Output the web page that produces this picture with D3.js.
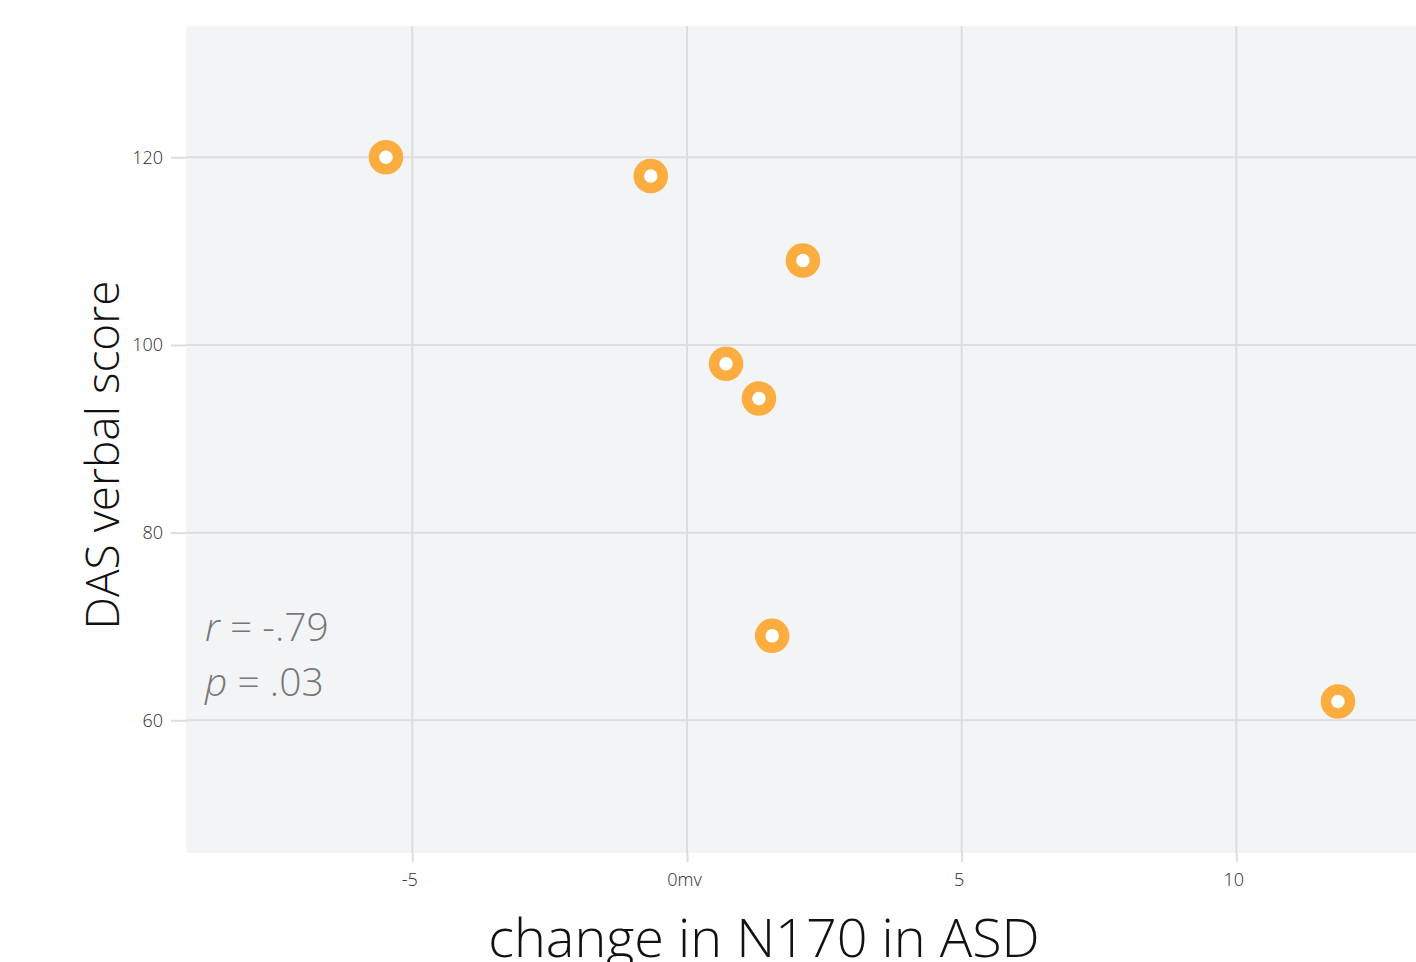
<!DOCTYPE html>
<html>
<head>
<meta charset="utf-8">
<script src="https://cdn.jsdelivr.net/npm/d3@7"></script>
<style>
  html, body { margin: 0; padding: 0; background: #ffffff; overflow: hidden; }
  svg { display: block; font-family: "Open Sans", "Noto Sans", sans-serif; }
</style>
</head>
<body>
<svg id="chart" width="1416" height="962"></svg>
<script>
// N170 change (mV) vs DAS verbal score, ASD group
const n170Change = [-5.48, -0.66, 2.11, 0.71, 1.31, 1.55, 11.85];
const dasVerbal  = [120, 118, 109, 98, 94.3, 69, 62];

const xTicks = [-5, 0, 5, 10];
const xTickLabels = ["-5", "0mv", "5", "10"];
const yTicks = [60, 80, 100, 120];

const statR = "-.79";
const statP = ".03";

const FONT = '"Open Sans", "Noto Sans", sans-serif';
const plot = { left: 186, top: 26, right: 1416, bottom: 853 };

const svg = d3.select("#chart");

const x = d3.scaleLinear().domain([-9.12, 13.27]).range([plot.left, plot.right]);
const y = d3.scaleLinear().domain([45.86, 133.99]).range([plot.bottom, plot.top]);

// panel background
svg.append("rect")
  .attr("x", plot.left).attr("y", plot.top)
  .attr("width", plot.right - plot.left).attr("height", plot.bottom - plot.top)
  .attr("fill", "#f3f4f6");

const gridColor = "#dcdde0";

// grid lines
svg.append("g").selectAll("line").data(xTicks).join("line")
  .attr("x1", d => x(d)).attr("x2", d => x(d))
  .attr("y1", plot.top).attr("y2", plot.bottom)
  .attr("stroke", gridColor).attr("stroke-width", 2);

svg.append("g").selectAll("line").data(yTicks).join("line")
  .attr("x1", plot.left).attr("x2", plot.right)
  .attr("y1", d => y(d)).attr("y2", d => y(d))
  .attr("stroke", gridColor).attr("stroke-width", 2);

// axes
const xAxis = d3.axisBottom(x).tickValues(xTicks)
  .tickFormat((d, i) => xTickLabels[i]).tickSize(9).tickPadding(11);
const gx = svg.append("g").attr("transform", `translate(0,${plot.bottom})`).call(xAxis)
  .attr("font-family", FONT);
gx.select(".domain").remove();
gx.selectAll(".tick line").attr("stroke", gridColor).attr("stroke-width", 2);
gx.selectAll(".tick text").attr("fill", "#2a2a2a").attr("font-size", 18).attr("font-weight", 300)
  .attr("dx", -3);

const yAxis = d3.axisLeft(y).tickValues(yTicks).tickSize(15).tickPadding(8);
const gy = svg.append("g").attr("transform", `translate(${plot.left},0)`).call(yAxis)
  .attr("font-family", FONT);
gy.select(".domain").remove();
gy.selectAll(".tick line").attr("stroke", gridColor).attr("stroke-width", 2);
gy.selectAll(".tick text").attr("fill", "#2a2a2a").attr("font-size", 18).attr("font-weight", 300);

// axis titles
svg.append("text")
  .attr("x", 764).attr("y", 957)
  .attr("text-anchor", "middle")
  .attr("font-size", 54).attr("font-weight", 300).attr("fill", "#111")
  .text("change in N170 in ASD");

svg.append("text")
  .attr("transform", `translate(119,455) rotate(-90)`)
  .attr("text-anchor", "middle")
  .attr("font-size", 46).attr("font-weight", 300).attr("fill", "#111")
  .text("DAS verbal score");

// points
const pts = n170Change.map((v, i) => ({ x: v, y: dasVerbal[i] }));
svg.append("g").selectAll("circle").data(pts).join("circle")
  .attr("cx", d => x(d.x)).attr("cy", d => y(d.y))
  .attr("r", 12)
  .attr("fill", "#ffffff")
  .attr("stroke", "#fbad3f")
  .attr("stroke-width", 10.5);

// correlation annotation
const stats = svg.append("g").attr("fill", "#777").attr("font-size", 39).attr("font-weight", 300);
const t1 = stats.append("text").attr("x", 205).attr("y", 641);
t1.append("tspan").attr("font-style", "italic").text("r");
t1.append("tspan").text(" = " + statR);
const t2 = stats.append("text").attr("x", 205).attr("y", 696);
t2.append("tspan").attr("font-style", "italic").text("p");
t2.append("tspan").text(" = " + statP);
</script>
</body>
</html>
